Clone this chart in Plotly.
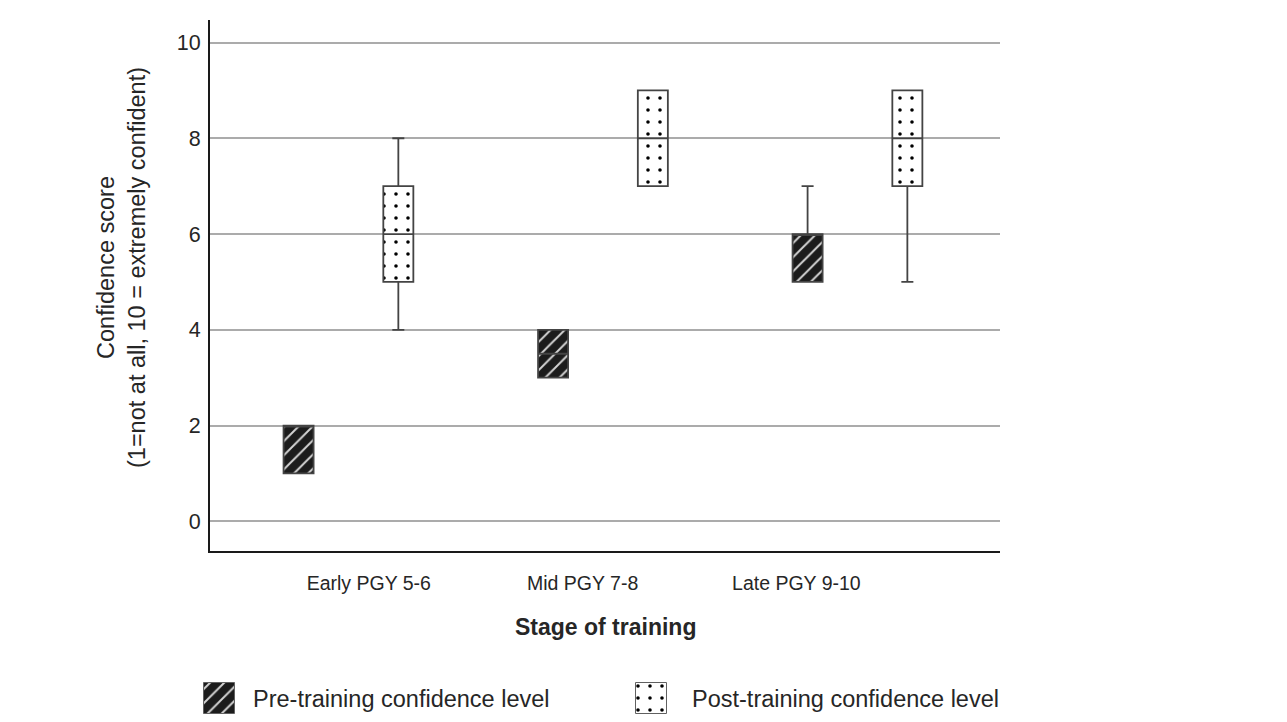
import plotly.graph_objects as go

# ---- data ----
categories = ["Early PGY 5-6", "Mid PGY 7-8", "Late PGY 9-10"]
pre_q1 = [1, 3, 5]
pre_median = [2, 3.5, 6]
pre_q3 = [2, 4, 6]
pre_low = [1, 3, 5]
pre_high = [2, 4, 7]

post_q1 = [5, 7, 7]
post_median = [6, 8, 8]
post_q3 = [7, 9, 9]
post_low = [4, 7, 5]
post_high = [8, 9, 9]

y_ticks = [0, 2, 4, 6, 8, 10]
legend_labels = ["Pre-training confidence level", "Post-training confidence level"]

# ---- layout constants (target page pixels; the page body has an 8px margin) ----
OFF = 8
WF, HF = 1287 - 2 * OFF, 722 - 2 * OFF


def fx(p):
    return (p - OFF) / WF


def fy(p):
    return 1 - (p - OFF) / HF


PX = dict(l=210, r=1000, t=20, b=551)
box_w = 0.118
pre_off, post_off = -0.196, 0.196
tick_pos = [0.08, 0.92, 1.76]
FONT = "Liberation Sans, Arial, sans-serif"
TXT = "#262626"

pre_pattern = dict(shape="/", fgcolor="#d4d4d4", fgopacity=1, size=10, solidity=0.2)
post_pattern = dict(shape=".", fgcolor="#000000", bgcolor="white", fgopacity=1,
                    size=12, solidity=0.07)

fig = go.Figure()

idx = list(range(len(categories)))
pre_x = [i + pre_off for i in idx]
post_x = [i + post_off for i in idx]

# patterned box bodies
fig.add_trace(go.Bar(x=pre_x, base=pre_q1, y=[b - a for a, b in zip(pre_q1, pre_q3)],
                     width=box_w, marker=dict(color="#1c1c1c", pattern=pre_pattern,
                                              line=dict(width=0)),
                     showlegend=False, hoverinfo="skip"))
fig.add_trace(go.Bar(x=post_x, base=post_q1, y=[b - a for a, b in zip(post_q1, post_q3)],
                     width=box_w, marker=dict(color="white", pattern=post_pattern,
                                              line=dict(width=0)),
                     showlegend=False, hoverinfo="skip"))

# box outlines / whiskers / medians
for xs, q1, med, q3, lo, hi in [(pre_x, pre_q1, pre_median, pre_q3, pre_low, pre_high),
                                (post_x, post_q1, post_median, post_q3, post_low, post_high)]:
    fig.add_trace(go.Box(x=xs, q1=q1, median=med, q3=q3, lowerfence=lo, upperfence=hi,
                         width=box_w, whiskerwidth=0.4, fillcolor="rgba(0,0,0,0)",
                         line=dict(color="#444444", width=1.8), boxpoints=False,
                         showlegend=False, hoverinfo="skip"))

fig.update_layout(
    width=WF, height=HF, plot_bgcolor="rgba(0,0,0,0)", paper_bgcolor="white",
    margin=dict(l=0, r=0, t=0, b=0), bargap=0,
    font=dict(family=FONT, color=TXT, size=20),
    xaxis=dict(domain=[fx(PX["l"]), fx(PX["r"])], range=[-0.544, 2.56],
               tickvals=tick_pos, ticktext=categories, showgrid=False, zeroline=False,
               showline=True, linecolor="#1a1a1a", linewidth=2, ticks="",
               tickfont=dict(size=19.5), ticklabelstandoff=14),
    yaxis=dict(domain=[fy(PX["b"]), fy(PX["t"])], range=[-0.62, 10.47],
               tickvals=y_ticks, showgrid=True, gridcolor="#ababab", gridwidth=1.5,
               zeroline=False, showline=True, linecolor="#1a1a1a", linewidth=2, ticks="",
               tickfont=dict(size=21.5), ticklabelstandoff=3),
    xaxis2=dict(domain=[0, 1], range=[OFF, OFF + WF], visible=False, fixedrange=True),
    yaxis2=dict(domain=[0, 1], range=[OFF + HF, OFF], visible=False, fixedrange=True),
)

# axis titles
fig.add_annotation(text="Confidence score<br>(1=not at all, 10 = extremely confident)",
                   xref="paper", yref="paper", x=fx(121), y=fy(268), textangle=-90,
                   xanchor="center", yanchor="middle",
                   showarrow=False, font=dict(size=23.5, color=TXT))
fig.add_annotation(text="<b>Stage of training</b>", xref="paper", yref="paper",
                   x=fx(605), y=fy(627), xanchor="center", yanchor="middle",
                   showarrow=False, font=dict(size=23, color=TXT))

# custom legend (icons drawn as patterned bars on an overlay pixel axis)
leg_icon_x = [219, 651]
leg_text_x = [251, 690]
leg_y0, leg_y1 = 683, 714
for k, (pat, col) in enumerate([(pre_pattern, "#1c1c1c"), (post_pattern, "white")]):
    fig.add_trace(go.Bar(x=[leg_icon_x[k]], base=[leg_y0], y=[leg_y1 - leg_y0], width=31,
                         xaxis="x2", yaxis="y2",
                         marker=dict(color=col, pattern=pat, line=dict(color="#606060", width=1)),
                         showlegend=False, hoverinfo="skip"))
    fig.add_annotation(text=legend_labels[k], xref="paper", yref="paper",
                       x=fx(leg_text_x[k]), y=fy((leg_y0 + leg_y1) / 2),
                       xanchor="left", yanchor="middle", showarrow=False,
                       font=dict(size=23.5, color=TXT))

fig.write_html("out.html")
